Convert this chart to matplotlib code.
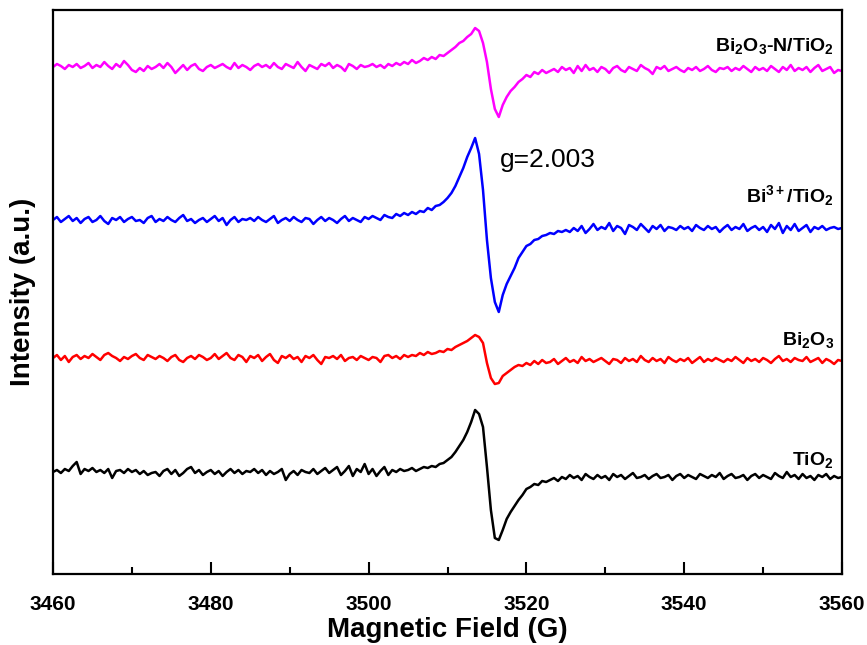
import numpy as np
import matplotlib
matplotlib.use('Agg')
import matplotlib.pyplot as plt

# magnetic field grid (G), 0.5 G step
field = np.arange(3460, 3560.5, 0.5)

# signals, relative to each trace's left baseline
bi2o3_n_tio2 = [
    0, 3, 1, -2, 2, 0, 3, -1, 1, 4,
    -1, 2, 0, 5, 1, -2, 3, 0, 6, 2,
    -3, -5, -1, -4, 1, -2, 0, 3, -1, 4,
    0, -6, -2, 2, -3, 1, 3, -2, -4, 0,
    2, -1, 1, 3, 0, -2, 4, -1, 2, 0,
    -3, 1, 3, 0, 2, -1, 4, 0, -2, 3,
    1, -1, 5, 0, -4, 2, 0, -2, 3, 1,
    4, -1, 2, 0, -4, 3, 1, -2, 2, 0,
    1, 3, 0, 2, -1, 3, 1, 4, 2, 5,
    3, 7, 4, 6, 9, 7, 10, 8, 12, 11,
    14, 17, 20, 24, 26, 30, 33, 39, 36, 24,
    5, -22, -42, -50, -38, -30, -24, -20, -15, -12,
    -8, -10, -5, -7, -3, -6, -4, -2, -5, 0,
    -3, -1, -6, 1, -4, 2, -3, -1, -5, 0,
    -2, -6, -1, 1, -3, -5, 0, -2, -4, 2,
    -1, -3, -7, 0, -2, 1, -4, -2, 0, -3,
    -5, -1, -3, 0, -4, -2, 1, -3, -5, -1,
    -2, 0, -4, -1, -3, 1, -2, -5, 0, -3,
    -1, -4, 1, -2, -5, 0, -3, 2, -4, -1,
    -3, 0, -5, -1, 2, -4, -2, 0, -6, -3,
    -4]

bi3_tio2 = [
    0, 3, -2, 1, 4, -1, 2, -3, 1, 3,
    -2, 0, 4, -1, -4, 2, 0, 3, -2, 1,
    3, -1, 0, -3, 2, 4, -2, 1, -1, 3,
    0, -2, 2, 5, -1, 1, -3, 0, 2, -2,
    1, 4, -1, 2, -5, 0, 3, -2, 1, 0,
    2, -1, 3, 0, -2, 1, 4, -3, 0, 2,
    -1, 3, 0, -2, 2, 1, -4, 0, 3, -1,
    2, 0, -3, 1, 4, -1, 2, 0, -2, 3,
    1, 4, 2, 0, 5, 3, 2, 6, 4, 7,
    5, 8, 6, 9, 8, 12, 10, 14, 15, 18,
    22, 27, 34, 43, 52, 63, 72, 82, 66, 30,
    -20, -58, -82, -92, -75, -64, -56, -48, -38, -32,
    -26, -24, -20, -19, -16, -15, -13, -14, -11, -12,
    -10, -12, -8, -11, -6, -13, -9, -4, -10, -7,
    -9, -3, -11, -6, -8, -14, -5, -7, -10, -4,
    -8, -12, -6, -9, -5, -11, -7, -8, -10, -6,
    -9, -7, -11, -5, -8, -10, -6, -9, -7, -12,
    -8, -5, -10, -7, -9, -4, -11, -8, -6, -10,
    -7, -12, -5, -9, -3, -13, -6, -10, -4, -11,
    -8, -5, -12, -7, -9, -6, -10, -8, -7, -9,
    -8]

bi2o3 = [
    0, 3, -2, 2, -4, 1, 3, -1, 2, 0,
    4, 1, -2, 3, 5, 2, 0, -3, 1, -1,
    2, 4, 0, -2, 3, 1, -1, 2, 0, -3,
    1, 3, -2, -4, 0, 2, -1, 3, 1, -2,
    0, 4, -1, 2, 5, 0, -2, 3, 1, -4,
    2, 0, 3, -3, 1, 4, -2, -5, 2, 0,
    3, -1, 1, -4, 2, 0, 3, -2, -6, 1,
    0, 2, -1, 3, -3, 0, 1, -2, 2, 0,
    -2, 1, 0, -4, 2, 3, 0, 2, -1, 3,
    1, 3, 2, 5, 3, 6, 4, 5, 7, 6,
    9, 8, 11, 13, 15, 17, 20, 23, 21, 15,
    -5, -20, -26, -25, -18, -15, -12, -9, -7, -8,
    -5, -7, -3, -6, -2, -5, -4, -1, -6, -3,
    0, -4, -2, -5, 1, -3, -1, -4, -2, 0,
    -3, -6, -1, -2, -5, 0, -3, -1, -4, 2,
    -2, -4, 0, -3, -1, -5, 1, -2, -4, -1,
    -3, 0, -5, -2, 1, -4, -1, -3, 0, -2,
    -4, -1, -3, 1, -2, -5, 0, -3, -1, -4,
    0, -2, -5, -1, 2, -3, -1, -4, 0, -2,
    -3, 1, -4, -2, 0, -5, -1, -3, -6, -2,
    -3]

tio2 = [
    0, 2, -1, 3, 1, 6, 10, -2, 3, 1,
    4, 0, 2, -1, 3, -6, 1, 2, -1, 3,
    0, 2, -2, 1, -3, -1, 0, -4, 1, 3,
    -2, 2, -4, -1, 3, 5, -1, 2, -3, 0,
    2, -2, 1, -4, 0, 3, -1, 2, -2, 1,
    0, 3, -1, 2, -3, 1, -2, 0, 3, -8,
    -2, 1, -3, 2, 0, -1, 3, -2, 1, 4,
    -1, 2, 5, -3, 1, 6, -4, 3, 0, 8,
    -2, 3, -4, 1, 5, -3, 2, 0, 3, 1,
    2, 4, 1, 3, 5, 4, 6, 5, 8, 9,
    12, 15, 20, 26, 32, 40, 50, 62, 58, 45,
    5, -38, -66, -68, -58, -47, -40, -34, -28, -23,
    -17, -15, -12, -13, -9, -10, -8, -6, -9, -5,
    -7, -3, -6, -4, -8, -2, -5, -7, -3, -6,
    -4, -8, -2, -5, -3, -7, -4, -1, -6, -5,
    -3, -7, -4, -2, -6, -5, -3, -8, -4, -2,
    -6, -3, -5, -7, -2, -4, -6, -3, -5, -1,
    -7, -4, -2, -6, -5, -3, -8, -4, -2, -6,
    -3, -5, -7, -1, -4, -6, 0, -5, -3, -7,
    -2, -6, -4, -8, -3, -5, -2, -7, -4, -6,
    -5]

series = [bi2o3_n_tio2, bi3_tio2, bi2o3, tio2]
names = ['Bi$_2$O$_3$-N/TiO$_2$', 'Bi$^{3+}$/TiO$_2$', 'Bi$_2$O$_3$', 'TiO$_2$']
colors = ['#ff00ff', '#0000ff', '#ff0000', '#000000']
offsets = [507, 354, 216, 102]
label_y = [528, 378, 234, 114]

plt.rcParams['font.family'] = ['Liberation Sans', 'DejaVu Sans']
plt.rcParams['mathtext.fontset'] = 'custom'
plt.rcParams['mathtext.rm'] = 'Liberation Sans:bold'
plt.rcParams['mathtext.it'] = 'Liberation Sans:bold'
plt.rcParams['mathtext.bf'] = 'Liberation Sans:bold'

fig = plt.figure(figsize=(8.67, 6.45), dpi=100)
ax = fig.add_axes([53 / 867, 71 / 645, 789 / 867, 564 / 645])

for s, c, off in zip(series, colors, offsets):
    ax.plot(field, np.array(s) + off, color=c, lw=1.8)

for n, ly in zip(names, label_y):
    ax.text(3559, ly, n, ha='right', va='center', fontsize=14, fontweight='bold')

ax.text(3516.7, 414, 'g=2.003', fontsize=19, va='center', ha='left')

ax.set_xlim(3460, 3560)
ax.set_ylim(0, 564)
ax.set_xticks(np.arange(3460, 3561, 20))
ax.set_xticks(np.arange(3470, 3560, 20), minor=True)
ax.set_yticks([])
ax.tick_params(axis='x', which='major', direction='in', length=9, width=1.5,
               pad=15, labelsize=15)
ax.tick_params(axis='x', which='minor', direction='in', length=5, width=1.5)
for lbl in ax.get_xticklabels():
    lbl.set_fontweight('bold')
for sp in ax.spines.values():
    sp.set_linewidth(1.6)

ax.set_xlabel('Magnetic Field (G)', fontsize=20, fontweight='bold', labelpad=2)
ax.set_ylabel('Intensity (a.u.)', fontsize=20, fontweight='bold', labelpad=12)

fig.savefig('out.png', dpi=100)
